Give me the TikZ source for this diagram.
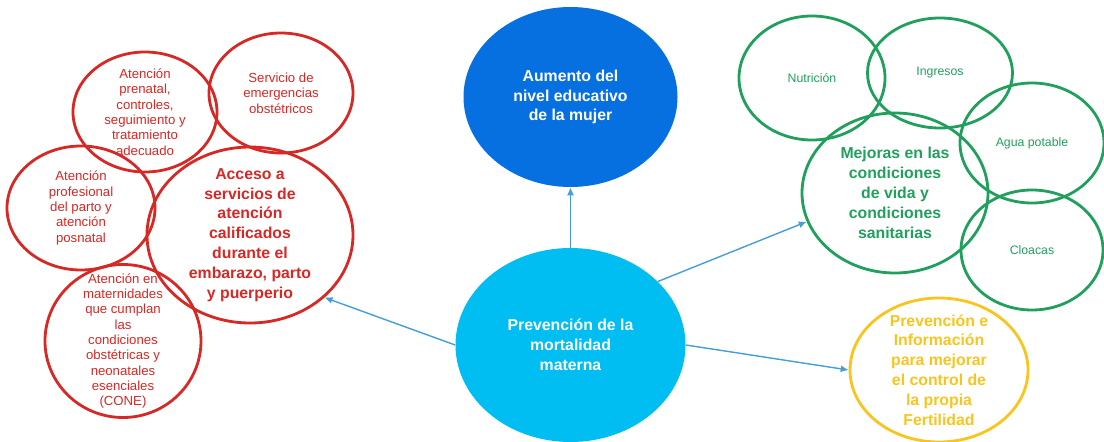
\documentclass[tikz,border=0pt]{standalone}
\usepackage{fontspec}
\setmainfont{Liberation Sans}
\usetikzlibrary{shapes.geometric,arrows.meta}

\definecolor{redline}{RGB}{214,40,36}
\definecolor{greenline}{RGB}{32,160,92}
\definecolor{yellowline}{RGB}{250,196,30}
\definecolor{darkblue}{RGB}{6,112,224}
\definecolor{lightblue}{RGB}{0,189,242}
\definecolor{arrowblue}{RGB}{70,158,216}

\tikzset{
  bubble/.style={ellipse,inner sep=-1cm,align=center},
  ring/.style={bubble,draw,line width=1.6pt},
  bigtext/.style={font=\fontsize{9}{11.3}\selectfont\bfseries},
  smalltext/.style={font=\fontsize{7.5}{8.7}\selectfont},
  tinytext/.style={font=\fontsize{7}{8.5}\selectfont},
  link/.style={draw=arrowblue,line width=0.8pt,-{Latex[length=4.5pt,width=4pt]}}
}

\begin{document}
\begin{tikzpicture}
\useasboundingbox (0,0) rectangle (22.08,8.82);

% filled centre bubbles
\node[bubble,fill=lightblue,text=white,bigtext,minimum width=4.6cm,minimum height=3.88cm] (M) at (11.41,1.92) {Prevención de la\\mortalidad\\materna};
\node[bubble,fill=darkblue,text=white,bigtext,minimum width=4.28cm,minimum height=3.6cm] (E) at (11.41,6.88) {Aumento del\\nivel educativo\\de la mujer};

% red group
\node[ring,draw=redline,text=redline,bigtext,minimum width=4.12cm,minimum height=3.52cm] (A) at (5.00,4.12) {Acceso a\\servicios de\\atención\\calificados\\durante el\\embarazo, parto\\y puerperio};
\node[ring,draw=redline,text=redline,smalltext,minimum width=2.88cm,minimum height=2.4cm] (Pn) at (2.90,6.58) {Atención\\prenatal,\\controles,\\seguimiento y\\tratamiento\\adecuado};
\node[ring,draw=redline,text=redline,smalltext,minimum width=2.88cm,minimum height=2.4cm] (Em) at (5.62,6.96) {Servicio de\\emergencias\\obstétricos};
\node[ring,draw=redline,text=redline,smalltext,minimum width=2.96cm,minimum height=2.48cm] (Pr) at (1.62,4.66) {Atención\\profesional\\del parto y\\atención\\posnatal};
\node[ring,draw=redline,text=redline,smalltext,minimum width=3.12cm,minimum height=3.06cm] (Ma) at (2.46,2.00) {Atención en\\maternidades\\que cumplan\\las\\condiciones\\obstétricas y\\neonatales\\esenciales\\(CONE)};

% green group
\node[ring,draw=greenline,text=greenline,bigtext,minimum width=3.72cm,minimum height=3.2cm] (S) at (17.90,4.96) {Mejoras en las\\condiciones\\de vida y\\condiciones\\sanitarias};
\node[ring,draw=greenline,text=greenline,tinytext,minimum width=2.92cm,minimum height=2.48cm] (N) at (16.24,7.26) {Nutrición};
\node[ring,draw=greenline,text=greenline,tinytext,minimum width=2.9cm,minimum height=2.2cm] (I) at (18.80,7.36) {Ingresos};
\node[ring,draw=greenline,text=greenline,tinytext,minimum width=2.88cm,minimum height=2.4cm] (W) at (20.64,5.96) {Agua potable};
\node[ring,draw=greenline,text=greenline,tinytext,minimum width=2.84cm,minimum height=2.4cm] (C) at (20.64,3.82) {Cloacas};

% yellow
\node[ring,draw=yellowline,text=yellowline,bigtext,minimum width=3.56cm,minimum height=2.88cm] (F) at (18.78,1.42) {Prevención e\\Información\\para mejorar\\el control de\\la propia\\Fertilidad};

\foreach \a/\b in {M.north/E.south,M.west/A.-40,M.36/S.198,M.east/F.west}{
  \draw[link] (\a) -- (\b);
}

\end{tikzpicture}
\end{document}
